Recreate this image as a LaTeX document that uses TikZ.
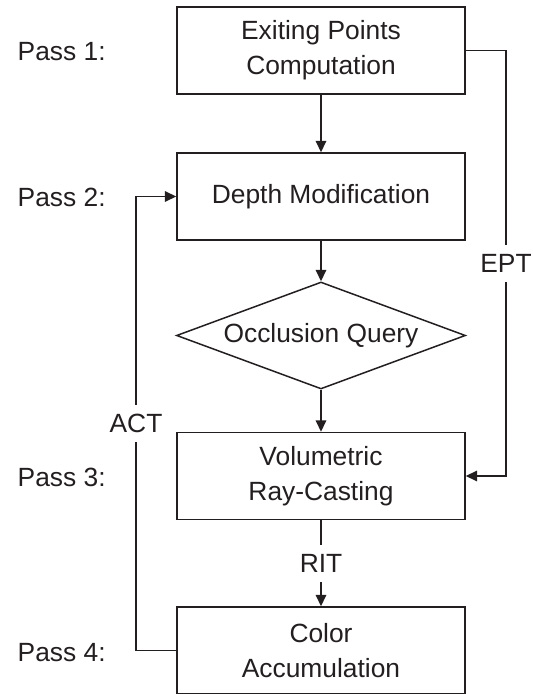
\documentclass[tikz,border=0pt]{standalone}
\usepackage{fontspec}
\setmainfont{Liberation Sans}
\usetikzlibrary{shapes.geometric,arrows.meta}
\definecolor{ink}{HTML}{231F20}
\tikzset{
    passbox/.style={draw=ink, rectangle, minimum width=5.76cm, minimum height=1.74cm, align=center},
    querybox/.style={draw=ink, diamond, inner sep=0pt, minimum width=5.78cm, minimum height=2.14cm},
    tag/.style={fill=white, inner sep=5.5pt},
    passlabel/.style={anchor=west, inner sep=0pt}
}
\begin{document}
\begin{tikzpicture}[font=\fontsize{15pt}{20pt}\selectfont, text=ink, line width=0.85pt,
        >={Triangle[length=6.5pt, width=6pt]}]
            \useasboundingbox (0,0) rectangle (10.64,13.88);

            \node[passbox] (EPC) at (6.42,12.87) {Exiting Points\\Computation};
            \node[passbox] (DM) at (6.42,9.95) {Depth Modification};
            \node[querybox] (OQ) at (6.42,7.17) {\makebox[0pt]{Occlusion Query}};
            \node[passbox] (VRC) at (6.42,4.36) {Volumetric\\Ray-Casting};
            \node[passbox] (CA) at (6.42,0.87) {Color\\Accumulation};

            \node[passlabel] (P1) at (0.34,12.84) {Pass 1:};
            \node[passlabel] (P2) at (0.34,9.94) {Pass 2:};
            \node[passlabel] (P3) at (0.34,4.34) {Pass 3:};
            \node[passlabel] (P4) at (0.34,0.82) {Pass 4:};

            \coordinate (EPTa) at (10.12,12.87);
            \coordinate (EPTb) at (10.12,4.36);
            \coordinate (ACTa) at (2.72,0.87);
            \coordinate (ACTb) at (2.72,9.95);

            \draw[draw=ink, ->] (EPC) -- (DM);
            \draw[draw=ink, ->] (DM) -- (OQ);
            \draw[draw=ink, ->] (OQ) -- (VRC);
            \draw[draw=ink, ->] (VRC) -- node[tag] {RIT} (CA);
            \draw[draw=ink, ->] (EPC.east) -- (EPTa) -- node[tag] {EPT} (EPTb) -- (VRC.east);
            \draw[draw=ink, ->] (CA.west) -- (ACTa) -- node[tag] {ACT} (ACTb) -- (DM.west);
        \end{tikzpicture}
\end{document}
